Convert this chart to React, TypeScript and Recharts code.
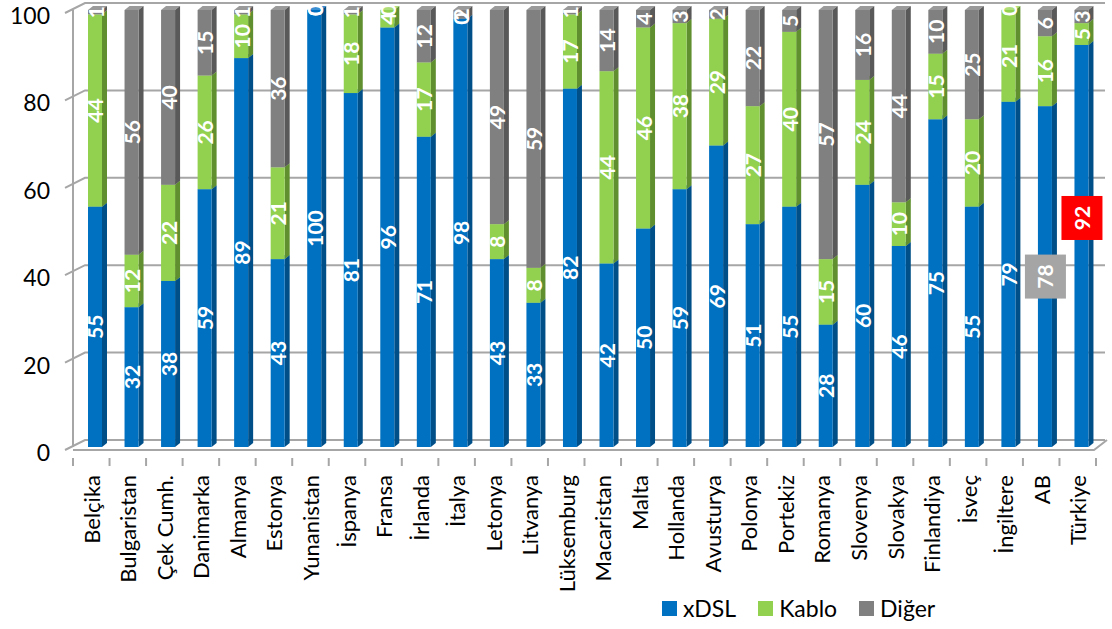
import React from 'react'
import { BarChart, Bar, XAxis, YAxis, CartesianGrid, Legend, LabelList } from 'recharts'

const countries = [
  'Belçika', 'Bulgaristan', 'Çek Cumh.', 'Danimarka', 'Almanya', 'Estonya', 'Yunanistan',
  'İspanya', 'Fransa', 'İrlanda', 'İtalya', 'Letonya', 'Litvanya', 'Lüksemburg',
  'Macaristan', 'Malta', 'Hollanda', 'Avusturya', 'Polonya', 'Portekiz', 'Romanya',
  'Slovenya', 'Slovakya', 'Finlandiya', 'İsveç', 'İngiltere', 'AB', 'Türkiye',
]
const xdsl = [55, 32, 38, 59, 89, 43, 100, 81, 96, 71, 98, 43, 33, 82, 42, 50, 59, 69, 51, 55, 28, 60, 46, 75, 55, 79, 78, 92]
const kablo = [44, 12, 22, 26, 10, 21, 0, 18, 4, 17, 0, 8, 8, 17, 44, 46, 38, 29, 27, 40, 15, 24, 10, 15, 20, 21, 16, 5]
const diger = [1, 56, 40, 15, 1, 36, 0, 1, 0, 12, 2, 49, 59, 1, 14, 4, 3, 2, 22, 5, 57, 16, 44, 10, 25, 0, 6, 3]
const yTicks = [0, 20, 40, 60, 80, 100]

const data = countries.map((name, i) => ({ name, xdsl: xdsl[i], kablo: kablo[i], diger: diger[i] }))

const FONT = 'Lato, Calibri, sans-serif'
const W = 1112
const H = 629
const M = { top: 10, right: 16, left: 0, bottom: 0 }
const Y_W = 73
const BAND = (W - M.left - M.right - Y_W) / countries.length
const SHIFT = 4
const DX = 5
const DY = 4
const GRID = '#a6a6a6'

const series = [
  { key: 'xdsl', name: 'xDSL', front: '#0070c0', side: '#004f88', top: '#3a8fd2' },
  { key: 'kablo', name: 'Kablo', front: '#92d050', side: '#5f8f2e', top: '#aede7a' },
  { key: 'diger', name: 'Diğer', front: '#808080', side: '#595959', top: '#9a9a9a' },
]

function makeShape(s: typeof series[number]) {
  return (props: any) => {
    const { x, y, width, height } = props
    if (!height || height <= 0) return <g />
    const fx = x + SHIFT
    return (
      <g>
        <polygon
          points={`${fx},${y} ${fx + DX},${y - DY} ${fx + width + DX},${y - DY} ${fx + width},${y}`}
          fill={s.top}
        />
        <polygon
          points={`${fx + width},${y} ${fx + width + DX},${y - DY} ${fx + width + DX},${y + height - DY} ${fx + width},${y + height}`}
          fill={s.side}
        />
        <rect x={fx} y={y} width={width} height={height} fill={s.front} />
      </g>
    )
  }
}

function makeLabel(key: string) {
  return (props: any) => {
    const { x, y, width, height, value, index } = props
    const cx = x + SHIFT + width / 2
    let cy = y + height / 2
    let box: string | null = null
    if (key === 'xdsl' && index === countries.length - 2) box = '#a5a5a5'
    if (key === 'xdsl' && index === countries.length - 1) {
      box = '#ff0000'
      cy -= 28
    }
    return (
      <g>
        {box && <rect x={cx - 20} y={cy - 22} width={41} height={44} fill={box} />}
        <text
          x={cx}
          y={cy}
          transform={`rotate(-90 ${cx} ${cy})`}
          textAnchor="middle"
          dominantBaseline="central"
          fill="#ffffff"
          fontFamily={FONT}
          fontWeight={700}
          fontSize={21}
        >
          {value}
        </text>
      </g>
    )
  }
}

const GridLine = (props: any) => {
  const { x1, x2, y1 } = props
  const y = y1
  const back = y - 7
  const isFloor = Math.abs(y - (H - 182)) < 2
  return (
    <g>
      <polyline
        points={`${x1 - 8},${y + 3} ${x1 + 12},${back} ${x2 + 9},${back}`}
        fill="none"
        stroke={GRID}
        strokeWidth={2}
      />
      {isFloor && (
        <polyline
          points={`${x1},${y + 3} ${x2 - 2},${y + 3} ${x2 + 11},${back}`}
          fill="none"
          stroke={GRID}
          strokeWidth={2}
        />
      )}
    </g>
  )
}

const XTick = (props: any) => {
  const { x, y, payload, index } = props
  const ty = y + 20
  const bx = x - BAND / 2
  return (
    <g>
      <line x1={bx} y1={y + 3} x2={bx} y2={y + 11} stroke={GRID} strokeWidth={2} />
      {index === countries.length - 1 && (
        <line x1={x + BAND / 2} y1={y + 3} x2={x + BAND / 2} y2={y + 11} stroke={GRID} strokeWidth={2} />
      )}
      <text
        x={x}
        y={ty}
        transform={`rotate(-90 ${x} ${ty})`}
        textAnchor="end"
        dominantBaseline="central"
        fill="#000000"
        fontFamily={FONT}
        fontSize={22}
      >
        {payload.value}
      </text>
    </g>
  )
}

const YTick = (props: any) => {
  const { x, y, payload } = props
  return (
    <text x={x} y={y + 5} textAnchor="end" dominantBaseline="central" fill="#000000" fontFamily={FONT} fontSize={23}>
      {payload.value}
    </text>
  )
}

const LegendBox = () => (
  <div style={{ display: 'flex', alignItems: 'center', height: 30, fontFamily: FONT, fontSize: 23, color: '#000' }}>
    {series.map((s) => (
      <div key={s.key} style={{ display: 'flex', alignItems: 'center', marginRight: 22 }}>
        <span style={{ display: 'inline-block', width: 15, height: 15, background: s.front, marginRight: 6 }} />
        <span>{s.name}</span>
      </div>
    ))}
  </div>
)

export default function App() {
  return (
    <div style={{ position: 'absolute', left: 0, top: 0, width: W, height: H, background: '#fff' }}>
      <BarChart width={W} height={H} data={data} margin={M} barSize={14} barCategoryGap={0}>
        <CartesianGrid vertical={false} horizontal={GridLine} />
        <XAxis
          dataKey="name"
          interval={0}
          height={H - 447 - 30}
          axisLine={false}
          tickLine={false}
          tick={XTick}
        />
        <YAxis
          domain={[0, 100]}
          ticks={yTicks}
          width={Y_W}
          axisLine={{ stroke: GRID, strokeWidth: 2 }}
          tickLine={false}
          tickSize={8}
          tickMargin={15}
          tick={YTick}
        />
        <Legend
          verticalAlign="bottom"
          content={LegendBox}
          wrapperStyle={{ left: 662, width: 320, bottom: 6 }}
        />
        {series.map((s) => (
          <Bar
            key={s.key}
            dataKey={s.key}
            name={s.name}
            stackId="a"
            fill={s.front}
            shape={makeShape(s)}
            isAnimationActive={false}
          >
            <LabelList dataKey={s.key} content={makeLabel(s.key)} />
          </Bar>
        ))}
      </BarChart>
    </div>
  )
}
